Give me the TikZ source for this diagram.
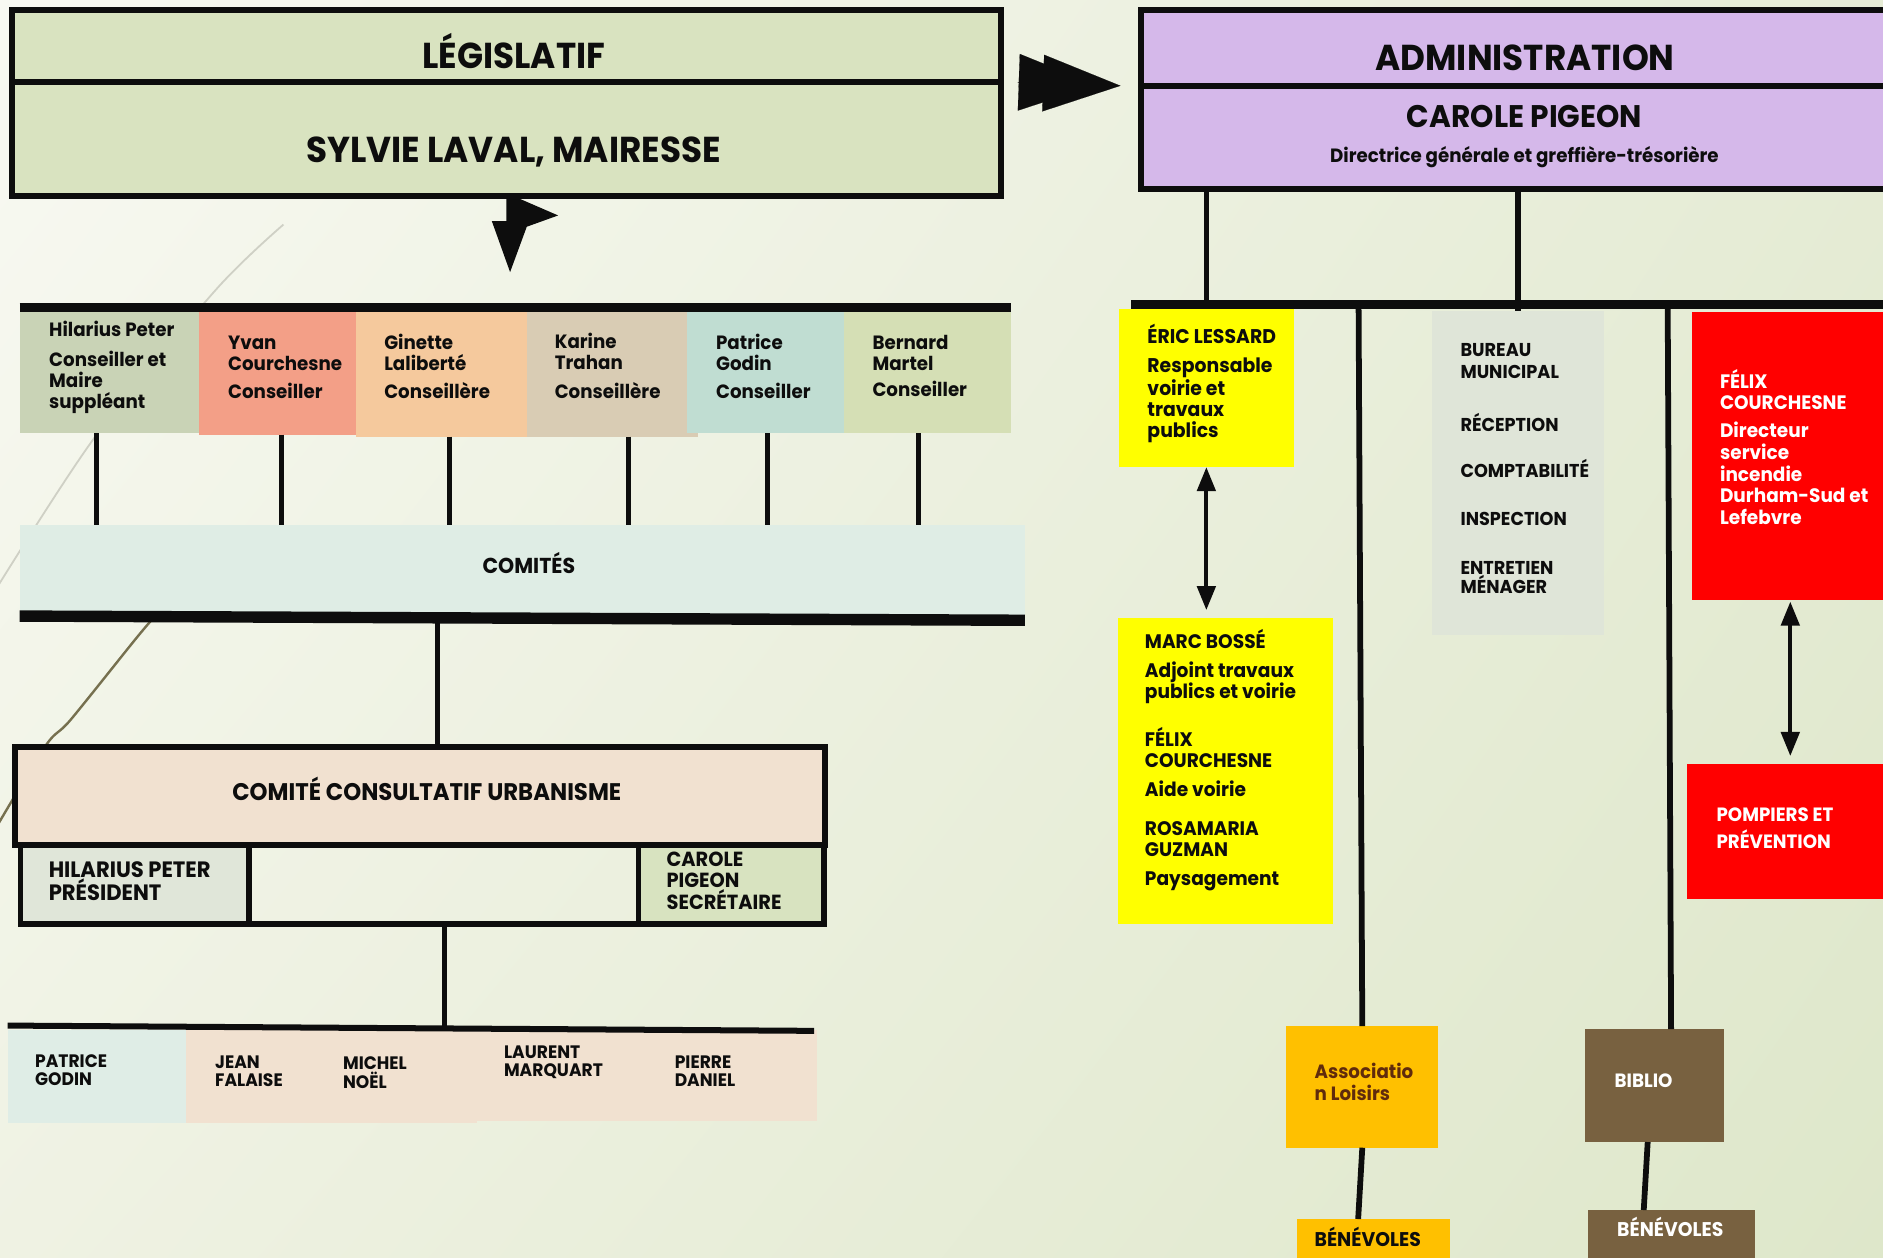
\documentclass[tikz,border=0pt]{standalone}
\usepackage{fontspec}
\setmainfont{Poppins}[FakeStretch=0.95]
\usetikzlibrary{arrows.meta,calc,shadings}
\definecolor{ink}{HTML}{0D0D0D}
\definecolor{bgUL}{HTML}{F8F9F2}
\definecolor{bgUR}{HTML}{E6ECD6}
\definecolor{bgLL}{HTML}{EFF2E3}
\definecolor{bgLR}{HTML}{DEE7CA}
\definecolor{legC}{HTML}{D9E3C0}
\definecolor{admC}{HTML}{D5B8EA}
\definecolor{hilC}{HTML}{C9D3B6}
\definecolor{yvaC}{HTML}{F39F87}
\definecolor{ginC}{HTML}{F5C99D}
\definecolor{karC}{HTML}{D9CCB4}
\definecolor{patC}{HTML}{C0DDD2}
\definecolor{berC}{HTML}{D5DFB5}
\definecolor{comC}{HTML}{DFEDE5}
\definecolor{urbC}{HTML}{F1E1D0}
\definecolor{preC}{HTML}{E0E6D9}
\definecolor{secC}{HTML}{D8E3C0}
\definecolor{bpaC}{HTML}{DFEDE6}
\definecolor{yelC}{HTML}{FFFF00}
\definecolor{burC}{HTML}{DFE5D8}
\definecolor{redC}{HTML}{FF0000}
\definecolor{oraC}{HTML}{FFC000}
\definecolor{broC}{HTML}{786140}
\definecolor{assT}{HTML}{602B0C}
\definecolor{deco1}{HTML}{CFD0C5}
\definecolor{deco2}{HTML}{76704F}
\newcommand\fs[2]{\fontsize{#1}{#2}\selectfont\bfseries}
\newcommand\rbox[6][]{%
  \node[rb,#1,minimum width={(#5)-(#3)},minimum height={(#6)-(#4)}] (#2) at (#3,#4) {};}
\tikzset{
  rb/.style={rectangle,inner sep=0pt,outer sep=0pt,anchor=north west},
  frame/.style={draw=ink,line width=5pt},
  tx/.style={inner sep=0pt,outer sep=0pt,anchor=base west,align=left,text=ink},
  tc/.style={inner sep=0pt,outer sep=0pt,anchor=base,align=center,text=ink},
  vline/.style={draw=ink,line width=4.3pt},
  bar/.style={draw=ink,line width=7pt},
  dbl/.style={draw=ink,line width=3.2pt,{Triangle[length=20pt,width=15.3pt]}-{Triangle[length=20pt,width=15.3pt]}},
  ffw/.style={draw=ink,fill=ink,line width=0.1pt,-{Triangle[length=64.4pt,width=47.2pt]}}
}
\begin{document}
\begin{tikzpicture}[x=1pt,y=-1pt]
\useasboundingbox (0,0) rectangle (1568,1047);
\clip (0,0) rectangle (1568,1047);
\shade[upper left=bgUL,upper right=bgUR,lower left=bgLL,lower right=bgLR] (0,0) rectangle (1568,1047);
% decorative background curves
\draw[deco1,line width=1.5pt] plot[smooth] coordinates {(236,187) (180,241) (79,364) (-3,490)};
\draw[deco2,line width=2pt] plot[smooth] coordinates {(130,512) (113,532) (58.7,599.5) (38.4,620.4) (-2,687)};

% ---------- LEGISLATIF ----------
\rbox[frame,fill=legC]{legtop}{10}{8}{833.5}{68}
\rbox[frame,fill=legC]{legbot}{10}{68}{833.5}{163.5}
\node[tc,font=\fs{30}{32}] (tleg) at (427.8,56.9) {LÉGISLATIF};
\node[tc,font=\fs{30}{32}] (tsyl) at (427.5,135.2) {SYLVIE LAVAL, MAIRESSE};
\fill[ink,shift={(legbot.south)}] (0,0) -- (6.3,0) -- (43,15.9) -- (16.9,25.3) -- (3,63.1) -- (-12.2,20.6) -- (0,20.6) -- cycle;

% ---------- Council ----------
\rbox[fill=hilC]{hil}{16.4}{259.5}{165.8}{360.8}
\rbox[fill=yvaC]{yva}{165.8}{259.5}{296.5}{361.9}
\rbox[fill=ginC]{gin}{296.5}{259.5}{438.8}{363.5}
\rbox[fill=karC]{kar}{438.8}{259.5}{581}{363.5}
\rbox[fill=patC]{pat}{571.7}{259.5}{703}{360.8}
\rbox[fill=berC]{ber}{703}{259.5}{841.5}{360.8}
\coordinate (cbL) at (16.4,256);
\coordinate (cbR) at (841.5,256);
\draw[bar] (cbL) -- (cbR);
\node[tx,font=\fs{16}{17.5}] (thil) at (41,339.8) {Hilarius Peter\\[6.8pt]Conseiller et\\Maire\\suppléant};
\node[tx,font=\fs{16}{17.5}] (tyva) at (190,331.9) {Yvan\\Courchesne\\[5.5pt]Conseiller};
\node[tx,font=\fs{16}{17.5}] (tgin) at (320,331.7) {Ginette\\Laliberté\\[5.5pt]Conseillère};
\node[tx,font=\fs{16}{17.5}] (tkar) at (462,331.5) {Karine\\Trahan\\[6pt]Conseillère};
\node[tx,font=\fs{16}{17.5}] (tpat) at (596.3,331.7) {Patrice\\Godin\\[5.5pt]Conseiller};
\node[tx,font=\fs{16}{17.5}] (tber) at (726.6,330.5) {Bernard\\Martel\\[4.5pt]Conseiller};

% ---------- Comites ----------
\rbox[fill=comC]{com}{16.4}{437.2}{853.5}{512}
\node[tc,font=\fs{18}{20}] (tcom) at (440.4,477.4) {COMITÉS};
\draw[vline] (80.4,0 |- hil.south) -- (80.4,0 |- com.north);
\draw[vline] (234.2,0 |- yva.south) -- (234.2,0 |- com.north);
\draw[vline] (374.2,0 |- gin.south) -- (374.2,0 |- com.north);
\draw[vline] (523.6,0 |- kar.south) -- (523.6,0 |- com.north);
\draw[vline] (639,0 |- pat.south) -- (639,0 |- com.north);
\draw[vline] (764.9,0 |- ber.south) -- (764.9,0 |- com.north);
\coordinate (kbL) at (16.4,513);
\coordinate (kbR) at (853.5,516.5);
\draw[draw=ink,line width=9.5pt] (kbL) -- (kbR);

% ---------- Urbanisme ----------
\rbox[frame,fill=urbC,line width=4.7pt]{urb}{12.6}{621.8}{686.9}{703.6}
\draw[vline] (364.2,0 |- kbL) -- (364.2,0 |- urb.north);
\node[tc,font=\fs{20}{22}] (turb) at (355.4,666.2) {COMITÉ CONSULTATIF URBANISME};
\rbox[frame,fill=preC,line width=4.7pt]{pres}{17.2}{703.6}{207.6}{769.4}
\rbox[frame,line width=4.7pt]{mid}{207.6}{703.6}{531.7}{769.4}
\rbox[frame,fill=secC,line width=4.7pt]{sec}{531.7}{703.6}{686}{769.4}
\node[tx,font=\fs{18.5}{18}] (tpres) at (40.6,749.6) {HILARIUS PETER\\PRÉSIDENT};
\node[tx,font=\fs{17}{18}] (tsec) at (555.1,757.4) {CAROLE\\PIGEON\\SECRÉTAIRE};

% ---------- Members ----------
\rbox[fill=bpaC]{bm1}{6.3}{857.7}{154.8}{935.4}
\rbox[fill=urbC]{bm2}{154.8}{857.7}{397.2}{935.4}
\rbox[fill=urbC]{bm3}{397.2}{857.7}{680.1}{933.8}
\coordinate (mbL) at (6.3,854);
\coordinate (mbR) at (677.9,858.4);
\draw[draw=ink,line width=5pt] (mbL) -- (mbR);
\draw[vline] (370.1,0 |- mid.south) -- (370.1,856.2);
\node[tx,font=\fs{15}{15.4}] (tm1) at (29.3,904.3) {PATRICE\\GODIN};
\node[tx,font=\fs{15}{15.4}] (tm2) at (179.2,904.9) {JEAN\\FALAISE};
\node[tx,font=\fs{15}{15.4}] (tm3) at (285.7,906.3) {MICHEL\\NOËL};
\node[tx,font=\fs{15}{15.4}] (tm4) at (419.7,896.5) {LAURENT\\MARQUART};
\node[tx,font=\fs{15}{15.4}] (tm5) at (561.9,904.9) {PIERRE\\DANIEL};

% ---------- ADMINISTRATION ----------
\rbox[frame,fill=admC]{admtop}{950}{8.3}{1590}{72}
\rbox[frame,fill=admC]{admbot}{950}{72}{1590}{157.5}
\node[tc,font=\fs{30}{32}] (tadm) at (1269.9,58.3) {ADMINISTRATION};
\node[tc,font=\fs{26}{28}] (tcar) at (1269.5,106.3) {CAROLE PIGEON};
\node[tc,font=\fs{16}{18}] (tdir) at (1269.4,135.2) {Directrice générale et greffière-trésorière};
\draw[ffw,shorten <=14pt,shorten >=37.3pt] (legtop.south east) -- (admtop.south west);
\draw[ffw,shorten <=14pt,shorten >=17pt] (legtop.south east) -- (admtop.south west);

% boxes under administration
\rbox[fill=yelC]{eric}{931.8}{257.1}{1077.3}{389}
\rbox[fill=yelC]{marc}{930.6}{514.5}{1110.1}{769.5}
\rbox[fill=burC]{bur}{1192.5}{258.8}{1335.9}{529}
\rbox[fill=redC]{fel}{1408.6}{259.5}{1590}{499.6}
\rbox[fill=redC]{pomp}{1404.5}{636.5}{1590}{748.8}
\rbox[fill=oraC]{assoc}{1071.2}{854.4}{1197.6}{955.7}
\rbox[fill=oraC]{ben1}{1079.6}{1015.1}{1207.3}{1060}
\rbox[fill=broC]{bib}{1319.9}{856.9}{1435.2}{951}
\rbox[fill=broC]{ben2}{1322.3}{1007.6}{1461.8}{1060}

\coordinate (abL) at (941.8,253.6);
\coordinate (abR) at (1590,253.6);
\coordinate (ab1) at (1131.3,253.6);
\coordinate (ab2) at (1388.7,253.6);
\draw[vline,line width=4.6pt] (eric.north |- admbot.south) -- (eric.north);
\draw[vline,line width=4.6pt] (bur.north |- admbot.south) -- (bur.north);
\draw[bar] (abL) -- (abR);
\draw[vline,line width=4.8pt] (ab1) -- (assoc.north);
\draw[vline,line width=4.8pt] (ab2) -- ($(bib.north)+(14,0)$);
\draw[vline,line width=4.8pt] (assoc.south) -- ($(ben1.north)+(-12.5,0)$);
\draw[vline,line width=4.8pt] ($(bib.south)+(-5.5,0)$) -- ($(ben2.north)+(-23.3,0)$);
\draw[dbl,shorten >=6.5pt] (eric.south) -- (eric.south |- marc.north);
\draw[dbl,shorten <=1.4pt,shorten >=7pt] (1490.8,0 |- fel.south) -- (1490.8,0 |- pomp.north);

\node[tx,font=\fs{16.5}{17.5}] (teric) at (955.5,364) {ÉRIC LESSARD\\[6.7pt]Responsable\\voirie et\\travaux\\publics};
\node[tx,font=\fs{16.3}{17.7}] (tmarc) at (953.4,737.3) {MARC BOSSÉ\\[6.5pt]Adjoint travaux\\publics et voirie\\[18.2pt]FÉLIX\\COURCHESNE\\[6.5pt]Aide voirie\\[14.7pt]ROSAMARIA\\GUZMAN\\[6.4pt]Paysagement};
\node[tx,font=\fs{15.5}{17.2}] (tbur) at (1216.2,494.4) {BUREAU\\[1.1pt]MUNICIPAL\\[26.7pt]RÉCEPTION\\[21.8pt]COMPTABILITÉ\\[22.2pt]INSPECTION\\[23.6pt]ENTRETIEN\\[-1pt]MÉNAGER};
\node[tx,font=\fs{16.2}{18},text=white] (tfel) at (1432.3,436.7) {FÉLIX\\COURCHESNE\\[5.3pt]Directeur\\service\\incendie\\Durham-Sud et\\Lefebvre};
\node[tx,font=\fs{16}{22.5},text=white] (tpomp) at (1429.4,706.3) {POMPIERS ET\\PRÉVENTION};
\node[tx,font=\fs{16}{18},text=assT] (tassoc) at (1094.7,916) {Associatio\\n Loisirs};
\node[tx,font=\fs{16.5}{18}] (tben1) at (1094.7,1038.2) {BÉNÉVOLES};
\node[tx,font=\fs{16}{18},text=white] (tbib) at (1344.5,905.5) {BIBLIO};
\node[tc,font=\fs{16.5}{18},text=white] (tben2) at (1390.9,1029.8) {BÉNÉVOLES};
\end{tikzpicture}
\end{document}
